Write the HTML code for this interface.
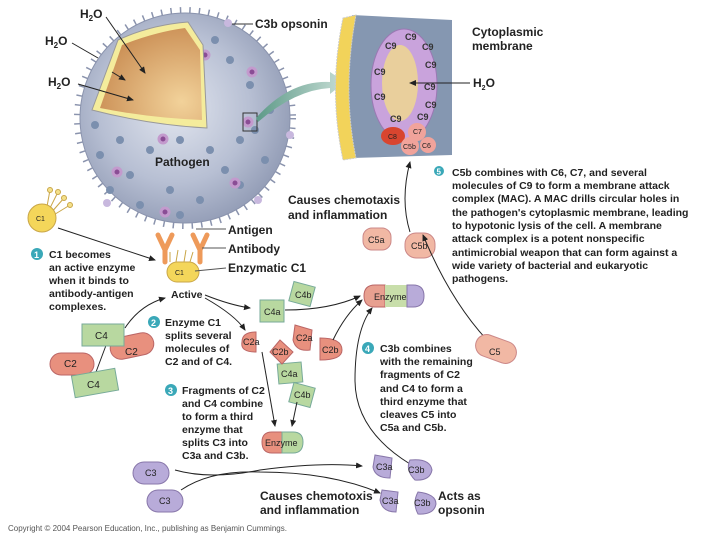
<!DOCTYPE html>
<html><head><meta charset="utf-8"><style>
body{margin:0;background:#fff}
svg{display:block;font-family:"Liberation Sans",sans-serif}
.t{font-size:10.5px;font-weight:bold;fill:#222}
.l{font-size:12px;font-weight:bold;fill:#222}
.s{font-size:9px;fill:#333;font-weight:bold}
</style></head><body>
<svg width="720" height="540" viewBox="0 0 720 540">
<defs>
<radialGradient id="sp" cx="0.45" cy="0.45" r="0.6"><stop offset="0" stop-color="#e2e6ef"/><stop offset="0.6" stop-color="#b7bfd3"/><stop offset="1" stop-color="#8f99b3"/></radialGradient>
<radialGradient id="or" cx="0.8" cy="0.8" r="0.9"><stop offset="0" stop-color="#f2d29a"/><stop offset="1" stop-color="#c98c52"/></radialGradient>
<linearGradient id="ga" x1="0" x2="1"><stop offset="0" stop-color="#5d9a88"/><stop offset="1" stop-color="#c8ded6"/></linearGradient>
<marker id="ar" markerWidth="8" markerHeight="8" refX="6" refY="3" orient="auto"><path d="M0,0 L7,3 L0,6 z" fill="#222"/></marker>
</defs>
<!-- pathogen -->
<circle cx="185" cy="118" r="108" fill="none" stroke="#8a93ad" stroke-width="6" stroke-dasharray="1.5,8"/>
<circle cx="185" cy="118" r="105" fill="url(#sp)" stroke="#8a93ad"/>
<g fill="#7b8fae">
<circle cx="230" cy="60" r="4"/><circle cx="250" cy="85" r="4"/><circle cx="270" cy="110" r="4"/><circle cx="240" cy="140" r="4"/><circle cx="210" cy="150" r="4"/><circle cx="180" cy="140" r="4"/><circle cx="150" cy="150" r="4"/><circle cx="120" cy="140" r="4"/><circle cx="100" cy="155" r="4"/><circle cx="130" cy="175" r="4"/><circle cx="170" cy="190" r="4"/><circle cx="200" cy="200" r="4"/><circle cx="240" cy="185" r="4"/><circle cx="265" cy="160" r="4"/><circle cx="110" cy="190" r="4"/><circle cx="140" cy="205" r="4"/><circle cx="225" cy="170" r="4"/><circle cx="95" cy="125" r="4"/><circle cx="215" cy="40" r="4"/><circle cx="255" cy="130" r="4"/><circle cx="180" cy="215" r="4"/>
</g>
<g fill="#8a4d95" stroke="#c39acd" stroke-width="3">
<circle cx="252" cy="72" r="4"/><circle cx="248" cy="122" r="4"/><circle cx="163" cy="139" r="4"/><circle cx="117" cy="172" r="4"/><circle cx="235" cy="183" r="4"/><circle cx="165" cy="212" r="4"/><circle cx="205" cy="55" r="4"/>
</g>
<g fill="#c8b8de"><circle cx="228" cy="23" r="4"/><circle cx="290" cy="135" r="4"/><circle cx="258" cy="200" r="4"/><circle cx="107" cy="203" r="4"/></g>
<path d="M92,110 L118,40 Q150,25 188,22 L203,45 L207,128 Q150,125 92,110 z" fill="#f4ec9c" stroke="#999"/>
<path d="M100,108 L122,45 Q155,32 185,28 L200,50 L202,120 Q150,118 100,108 z" fill="url(#or)"/>
<rect x="243" y="113" width="14" height="18" fill="none" stroke="#333"/>
<path d="M256,118 Q290,80 330,82 L330,72 L345,82 L330,94 L330,88 Q295,90 258,122 z" fill="url(#ga)"/>
<!-- membrane panel -->
<path d="M352,15 L452,20 L452,155 L352,158 Q338,90 352,15 z" fill="#8597b1"/>
<path d="M343,18 L356,15 Q342,90 356,158 L343,160 Q328,90 343,18 z" fill="#f2d35a" stroke="#ccc" stroke-dasharray="2,1"/>
<ellipse cx="404" cy="85" rx="33" ry="56" fill="#c9a3dc" stroke="#9a78b3"/>
<ellipse cx="400" cy="83" rx="18" ry="38" fill="#e9cf9c"/>
<g class="s" font-size="7" font-weight="normal">
<text x="405" y="40">C9</text><text x="385" y="49">C9</text><text x="422" y="50">C9</text><text x="374" y="75">C9</text><text x="425" y="68">C9</text><text x="424" y="90">C9</text><text x="374" y="100">C9</text><text x="425" y="108">C9</text><text x="390" y="122">C9</text><text x="417" y="120">C9</text></g>
<ellipse cx="393" cy="136" rx="12" ry="9" fill="#d8452f"/>
<circle cx="417" cy="132" r="9" fill="#f1a39b"/><circle cx="410" cy="146" r="9" fill="#f1a39b"/><circle cx="428" cy="145" r="8" fill="#f1a39b"/>
<g font-size="7" fill="#222"><text x="388" y="139">C8</text><text x="413" y="134">C7</text><text x="403" y="149">C5b</text><text x="422" y="148">C6</text></g>
<line x1="470" y1="83" x2="410" y2="83" stroke="#222" marker-end="url(#ar)"/>
<!-- labels top -->
<line x1="232" y1="24" x2="253" y2="24" stroke="#333"/>
<text x="255" y="28" class="l">C3b opsonin</text>
<text x="80" y="18" class="l">H<tspan font-size="8" dy="3">2</tspan><tspan dy="-3">O</tspan></text>
<text x="45" y="45" class="l">H<tspan font-size="8" dy="3">2</tspan><tspan dy="-3">O</tspan></text>
<text x="48" y="86" class="l">H<tspan font-size="8" dy="3">2</tspan><tspan dy="-3">O</tspan></text>
<line x1="106" y1="17" x2="145" y2="73" stroke="#222" marker-end="url(#ar)"/>
<line x1="72" y1="43" x2="98" y2="58" stroke="#222"/>
<line x1="112" y1="72" x2="125" y2="80" stroke="#222" marker-end="url(#ar)"/>
<line x1="78" y1="84" x2="133" y2="100" stroke="#222" marker-end="url(#ar)"/>
<text x="155" y="166" class="l" font-weight="normal">Pathogen</text>
<text x="472" y="36" class="l" font-weight="normal">Cytoplasmic</text>
<text x="472" y="50" class="l" font-weight="normal">membrane</text>
<text x="473" y="87" class="l" font-size="11">H<tspan font-size="7" dy="3">2</tspan><tspan dy="-3">O</tspan></text>
<!-- step5 -->
<circle cx="439" cy="171" r="5" fill="#3aa8b8"/><text x="436.5" y="174.5" font-size="8" fill="#fff" font-weight="bold">5</text>
<g class="t" font-size="10"><text x="452" y="176">C5b combines with C6, C7, and several</text><text x="452" y="189">molecules of C9 to form a membrane attack</text><text x="452" y="202">complex (MAC). A MAC drills circular holes in</text><text x="452" y="216">the pathogen's cytoplasmic membrane, leading</text><text x="452" y="229">to hypotonic lysis of the cell. A membrane</text><text x="452" y="242">attack complex is a potent nonspecific</text><text x="452" y="256">antimicrobial weapon that can form against a</text><text x="452" y="269">wide variety of bacterial and eukaryotic</text><text x="452" y="282">pathogens.</text></g>
<text x="288" y="204" class="l" font-weight="normal">Causes chemotaxis</text>
<text x="288" y="219" class="l" font-weight="normal">and inflammation</text>
<rect x="363" y="228" width="28" height="22" rx="9" fill="#f1b8a4" stroke="#c88"/><text x="368" y="243" font-size="9" fill="#222">C5a</text>
<rect x="405" y="233" width="30" height="25" rx="11" fill="#f1b8a4" stroke="#c88"/><text x="411" y="249" font-size="9" fill="#222">C5b</text>
<path d="M487,340 Q450,300 423,235" fill="none" stroke="#222" marker-end="url(#ar)"/>
<path d="M410,232 Q400,200 410,162" fill="none" stroke="#222" marker-end="url(#ar)"/>
<!-- C1 -->
<g stroke="#c9a648" fill="none"><path d="M46,212 L50,190"/><path d="M48,212 L58,192"/><path d="M50,214 L64,198"/><path d="M52,216 L70,205"/></g>
<g fill="#f4e08a" stroke="#c9a648"><circle cx="50" cy="190" r="2.5"/><circle cx="58" cy="192" r="2.5"/><circle cx="64" cy="198" r="2.5"/><circle cx="70" cy="205" r="2.5"/></g>
<circle cx="42" cy="218" r="14" fill="#f4d65a" stroke="#c9a648"/><text x="36" y="221" font-size="7" fill="#222">C1</text>
<line x1="58" y1="228" x2="155" y2="260" stroke="#222" marker-end="url(#ar)"/>
<circle cx="37" cy="254" r="6" fill="#3aa8b8"/><text x="34" y="258" font-size="9" fill="#fff" font-weight="bold">1</text>
<g class="t"><text x="49" y="258">C1 becomes</text><text x="49" y="271">an active enzyme</text><text x="49" y="284">when it binds to</text><text x="49" y="297">antibody-antigen</text><text x="49" y="310">complexes.</text></g>
<!-- antibodies -->
<g stroke="#ee9a5a" stroke-width="5" fill="none" stroke-linecap="round"><path d="M158,235 L165,250 L165,262 M172,235 L165,250"/><path d="M193,235 L200,250 L200,262 M207,235 L200,250"/></g>
<g stroke="#c9a648" fill="none"><path d="M170,262 L170,252 M176,262 L178,250 M184,262 L186,250 M190,262 L193,252"/></g>
<rect x="167" y="262" width="32" height="20" rx="10" fill="#f4d65a" stroke="#c9a648"/><text x="175" y="275" font-size="7" fill="#222">C1</text>
<g stroke="#555"><line x1="196" y1="229" x2="226" y2="229"/><line x1="202" y1="248" x2="226" y2="248"/><line x1="195" y1="271" x2="226" y2="268"/></g>
<text x="228" y="234" class="l" font-weight="normal">Antigen</text>
<text x="228" y="253" class="l" font-weight="normal">Antibody</text>
<text x="228" y="272" class="l" font-weight="normal">Enzymatic C1</text>
<text x="171" y="298" class="t">Active</text>
<!-- C2/C4 -->
<path d="M125,328 Q140,305 165,298" fill="none" stroke="#222" marker-end="url(#ar)"/>
<path d="M205,295 Q230,305 250,308" fill="none" stroke="#222" marker-end="url(#ar)"/>
<path d="M205,298 Q235,315 245,330" fill="none" stroke="#222" marker-end="url(#ar)"/>
<line x1="108" y1="340" x2="96" y2="372" stroke="#222"/>
<rect x="110" y="335" width="44" height="22" rx="11" fill="#e8907e" stroke="#b66" transform="rotate(-12 132 346)"/><text x="125" y="355" font-size="10" fill="#222">C2</text>
<rect x="50" y="353" width="44" height="22" rx="11" fill="#e8907e" stroke="#b66"/><text x="64" y="367" font-size="10" fill="#222">C2</text>
<rect x="82" y="324" width="42" height="22" fill="#b8d8a0" stroke="#7a9"/><text x="95" y="339" font-size="10" fill="#222">C4</text>
<rect x="73" y="372" width="44" height="22" fill="#b8d8a0" stroke="#7a9" transform="rotate(-10 95 383)"/><text x="87" y="388" font-size="10" fill="#222">C4</text>
<circle cx="154" cy="322" r="6" fill="#3aa8b8"/><text x="151" y="326" font-size="9" fill="#fff" font-weight="bold">2</text>
<g class="t"><text x="165" y="326">Enzyme C1</text><text x="165" y="339">splits several</text><text x="165" y="352">molecules of</text><text x="165" y="365">C2 and of C4.</text></g>
<circle cx="171" cy="390" r="6" fill="#3aa8b8"/><text x="168" y="394" font-size="9" fill="#fff" font-weight="bold">3</text>
<g class="t"><text x="182" y="394">Fragments of C2</text><text x="182" y="407">and C4 combine</text><text x="182" y="420">to form a third</text><text x="182" y="433">enzyme that</text><text x="182" y="446">splits C3 into</text><text x="182" y="459">C3a and C3b.</text></g>
<!-- fragments -->
<g fill="#b8d8a0" stroke="#7a9">
<rect x="260" y="300" width="24" height="22"/><rect x="291" y="284" width="22" height="20" transform="rotate(15 302 294)"/>
<rect x="278" y="363" width="24" height="20" transform="rotate(-5 290 373)"/><rect x="291" y="385" width="22" height="20" transform="rotate(15 302 395)"/>
</g>
<g fill="#e8907e" stroke="#b66">
<path d="M256,332 L256,352 Q240,352 242,342 Q242,332 256,332 z"/>
<path d="M295,325 L312,330 L310,350 Q296,352 293,340 z"/>
<path d="M280,340 L293,352 L282,364 L270,352 z"/>
<path d="M320,338 Q342,338 342,350 Q342,360 320,360 z"/>
</g>
<g font-size="9" fill="#222"><text x="264" y="315">C4a</text><text x="295" y="298">C4b</text><text x="243" y="345">C2a</text><text x="296" y="341">C2a</text><text x="272" y="355">C2b</text><text x="322" y="353">C2b</text><text x="281" y="377">C4a</text><text x="294" y="398">C4b</text></g>
<path d="M285,310 Q330,310 360,296" fill="none" stroke="#222" marker-end="url(#ar)"/>
<path d="M333,340 Q345,315 362,300" fill="none" stroke="#222" marker-end="url(#ar)"/>
<line x1="262" y1="352" x2="275" y2="426" stroke="#222" marker-end="url(#ar)"/>
<line x1="297" y1="402" x2="292" y2="426" stroke="#222" marker-end="url(#ar)"/>
<path d="M272,432 L282,432 L282,453 L272,453 Q262,453 262,442 Q262,432 272,432 z" fill="#e8907e" stroke="#b66"/>
<path d="M282,432 L293,432 Q303,432 303,442 Q303,453 293,453 L282,453 z" fill="#b8d8a0" stroke="#7a9"/>
<text x="265" y="446" font-size="9" fill="#222">Enzyme</text>
<!-- top enzyme -->
<path d="M375,285 L385,285 L385,307 L375,307 Q364,307 364,296 Q364,285 375,285 z" fill="#e8a090" stroke="#b66"/>
<rect x="385" y="285" width="22" height="22" fill="#c8deaa"/>
<path d="M407,285 L413,285 Q424,285 424,296 Q424,307 413,307 L407,307 z" fill="#b8abd9" stroke="#87a"/>
<text x="374" y="300" font-size="9" fill="#222">Enzyme</text>
<circle cx="368" cy="348" r="6" fill="#3aa8b8"/><text x="365" y="352" font-size="9" fill="#fff" font-weight="bold">4</text>
<g class="t"><text x="380" y="352">C3b combines</text><text x="380" y="365">with the remaining</text><text x="380" y="378">fragments of C2</text><text x="380" y="392">and C4 to form a</text><text x="380" y="405">third enzyme that</text><text x="380" y="418">cleaves C5 into</text><text x="380" y="431">C5a and C5b.</text></g>
<rect x="475" y="338" width="42" height="22" rx="11" fill="#f1b8a4" stroke="#c88" transform="rotate(20 496 349)"/><text x="489" y="355" font-size="9" fill="#222">C5</text>
<path d="M410,464 Q355,430 355,380 Q355,330 372,308" fill="none" stroke="#222" marker-end="url(#ar)"/>
<!-- C3 -->
<rect x="133" y="462" width="36" height="22" rx="11" fill="#b8abd9" stroke="#87a"/><text x="145" y="476" font-size="9" fill="#222">C3</text>
<rect x="147" y="490" width="36" height="22" rx="11" fill="#b8abd9" stroke="#87a"/><text x="159" y="504" font-size="9" fill="#222">C3</text>
<path d="M175,470 Q210,480 260,470 Q320,462 362,466" fill="none" stroke="#222" marker-end="url(#ar)"/>
<path d="M181,490 Q210,470 260,472 Q330,472 380,493" fill="none" stroke="#222" marker-end="url(#ar)"/>
<g fill="#b8abd9" stroke="#87a">
<path d="M375,455 L392,458 L390,478 Q375,478 373,467 z"/>
<path d="M410,460 Q430,458 432,470 Q430,481 415,480 Q405,470 410,460 z"/>
<path d="M382,490 L398,492 L396,512 Q382,512 380,500 z"/>
<path d="M418,492 Q436,494 436,504 Q434,515 418,514 Q412,503 418,492 z"/>
</g>
<g font-size="9" fill="#222"><text x="376" y="470">C3a</text><text x="408" y="473">C3b</text><text x="382" y="504">C3a</text><text x="414" y="506">C3b</text></g>
<text x="260" y="500" class="l" font-weight="normal">Causes chemotoxis</text>
<text x="260" y="514" class="l" font-weight="normal">and inflammation</text>
<text x="438" y="500" class="l" font-weight="normal">Acts as</text>
<text x="438" y="514" class="l" font-weight="normal">opsonin</text>
<text x="8" y="531" font-size="8" fill="#555">Copyright © 2004 Pearson Education, Inc., publishing as Benjamin Cummings.</text>
</svg>
</body></html>
